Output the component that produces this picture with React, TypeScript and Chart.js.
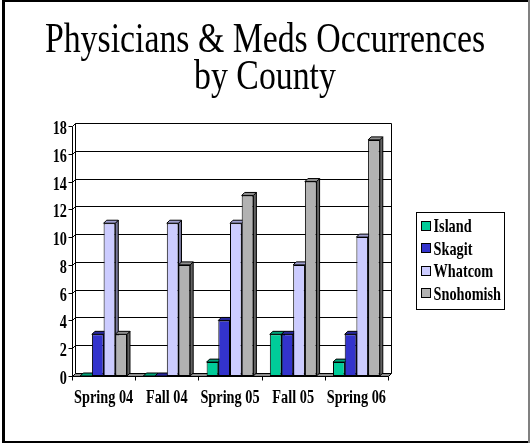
import { useEffect, useRef } from "react";
import { Chart, registerables } from "chart.js";

Chart.register(...registerables);

const categories = ["Spring 04", "Fall 04", "Spring 05", "Fall 05", "Spring 06"];
const seriesNames = ["Island", "Skagit", "Whatcom", "Snohomish"];
const island = [0, 0, 1, 3, 1];
const skagit = [3, 0, 4, 3, 3];
const whatcom = [11, 11, 11, 8, 10];
const snohomish = [3, 8, 13, 14, 17];
const yTicks = [0, 2, 4, 6, 8, 10, 12, 14, 16, 18];
const titleLines = ["Physicians & Meds Occurrences", "by County"];

const FRONT = ["#00CC99", "#3333CC", "#CCCCFF", "#B2B2B2"];
const TOP = ["#00A37A", "#28289E", "#A0A0D0", "#8E8E8E"];
const SIDE = ["#007A5C", "#1C1C70", "#77779A", "#626262"];

const DX = 3;
const DY = 3;
const SY = 1.27;
const SERIF = '"Liberation Serif", "Times New Roman", serif';

function stretchText(
  ctx: CanvasRenderingContext2D,
  text: string,
  x: number,
  y: number,
  font: string,
  align: CanvasTextAlign
) {
  ctx.save();
  ctx.font = font;
  ctx.textAlign = align;
  ctx.textBaseline = "alphabetic";
  ctx.fillStyle = "#000";
  ctx.translate(x, y);
  ctx.scale(1, SY);
  ctx.fillText(text, 0, 0);
  ctx.restore();
}

function poly(ctx: CanvasRenderingContext2D, pts: number[][], fill: string) {
  ctx.beginPath();
  ctx.moveTo(pts[0][0], pts[0][1]);
  for (let i = 1; i < pts.length; i++) ctx.lineTo(pts[i][0], pts[i][1]);
  ctx.closePath();
  ctx.fillStyle = fill;
  ctx.fill();
  ctx.stroke();
}

function seg(ctx: CanvasRenderingContext2D, x1: number, y1: number, x2: number, y2: number) {
  ctx.beginPath();
  ctx.moveTo(x1, y1);
  ctx.lineTo(x2, y2);
  ctx.stroke();
}

const decor = {
  id: "decor",
  beforeDraw(chart: any) {
    const ctx: CanvasRenderingContext2D = chart.ctx;
    ctx.save();
    ctx.fillStyle = "#fff";
    ctx.fillRect(0, 0, chart.width, chart.height);
    ctx.fillStyle = "#000";
    ctx.fillRect(2, 0, 526, 2);
    ctx.fillRect(2, 0, 3, 443);
    ctx.fillRect(2, 441, 526, 2);
    ctx.fillStyle = "#808080";
    ctx.fillRect(528, 0, 2, 443);
    ctx.restore();
    stretchText(ctx, titleLines[0], 265, 52, `33.8px ${SERIF}`, "center");
    stretchText(ctx, titleLines[1], 265, 89, `33.8px ${SERIF}`, "center");
  },
  beforeDatasetsDraw(chart: any) {
    const ctx: CanvasRenderingContext2D = chart.ctx;
    const a = chart.chartArea;
    const xs = chart.scales.x;
    const ys = chart.scales.y;
    const L = Math.round(a.left) + 0.5;
    const R = Math.round(a.right) + 0.5;
    const B = Math.round(ys.getPixelForValue(0)) + 0.5;
    const T = Math.round(ys.getPixelForValue(18)) + 0.5;
    ctx.save();
    ctx.lineWidth = 1;
    ctx.strokeStyle = "#000";
    ctx.lineJoin = "miter";
    // back wall gridlines and front y-axis ticks
    for (const v of yTicks) {
      const py = Math.round(ys.getPixelForValue(v)) + 0.5;
      if (v > 0) seg(ctx, L + DX, py - DY, R + DX, py - DY);
      seg(ctx, L - 4, py, L, py);
      seg(ctx, L, py, L + DX, py - DY);
    }
    // back wall outline
    seg(ctx, L + DX, T - DY, L + DX, B - DY);
    seg(ctx, R + DX, T - DY, R + DX, B - DY);
    // floor
    poly(ctx, [[L, B], [L + DX, B - DY], [R + DX, B - DY], [R, B]], "#8C8C8C");
    // front y axis
    seg(ctx, L, T, L, B);
    // x ticks at category boundaries
    for (let i = 0; i <= categories.length; i++) {
      const px = Math.round(xs.getPixelForValue(i - 0.5)) + 0.5;
      seg(ctx, px, B, px, B + 4);
    }
    // 3D faces of bars (top + right side)
    for (let di = 0; di < chart.data.datasets.length; di++) {
      const meta = chart.getDatasetMeta(di);
      meta.data.forEach((el: any) => {
        const p = el.getProps(["x", "y", "base", "width"], true);
        const l = p.x - p.width / 2;
        const r = p.x + p.width / 2;
        const t = Math.min(p.y, p.base);
        const b = Math.max(p.y, p.base);
        poly(ctx, [[r, b], [r + DX, b - DY], [r + DX, t - DY], [r, t]], SIDE[di]);
        poly(ctx, [[l, t], [l + DX, t - DY], [r + DX, t - DY], [r, t]], TOP[di]);
      });
    }
    ctx.restore();
  },
  afterDraw(chart: any) {
    const ctx: CanvasRenderingContext2D = chart.ctx;
    const a = chart.chartArea;
    const xs = chart.scales.x;
    const ys = chart.scales.y;
    const boldFont = `bold 14.3px ${SERIF}`;
    for (const v of yTicks) {
      const py = ys.getPixelForValue(v);
      stretchText(ctx, String(v), Math.round(a.left) - 5, py + 8, boldFont, "right");
    }
    categories.forEach((c, i) => {
      stretchText(ctx, c, xs.getPixelForValue(i), 403, boldFont, "center");
    });
    // legend
    ctx.save();
    ctx.lineWidth = 1;
    ctx.strokeStyle = "#000";
    ctx.strokeRect(416.5, 212.5, 88, 97);
    seriesNames.forEach((name, i) => {
      const cy = 225.5 + i * 22.4;
      ctx.fillStyle = FRONT[i];
      ctx.fillRect(421.5, Math.round(cy - 4.5) + 0.5, 9, 9);
      ctx.strokeRect(421.5, Math.round(cy - 4.5) + 0.5, 9, 9);
      stretchText(ctx, name, 433.5, cy + 6.8, boldFont, "left");
    });
    ctx.restore();
  },
};

export default function App() {
  const ref = useRef<HTMLCanvasElement | null>(null);
  useEffect(() => {
    if (!ref.current) return;
    const series = [island, skagit, whatcom, snohomish];
    const chart = new Chart(ref.current, {
      type: "bar",
      data: {
        labels: categories,
        datasets: series.map((d, i) => ({
          label: seriesNames[i],
          data: d,
          backgroundColor: FRONT[i],
          borderColor: "#000",
          borderWidth: 1,
          borderSkipped: false,
          categoryPercentage: 0.74,
          barPercentage: 1.0,
        })),
      },
      options: {
        responsive: false,
        maintainAspectRatio: false,
        devicePixelRatio: 1,
        animation: false,
        layout: { padding: { left: 72, right: 142, top: 126, bottom: 68 } },
        scales: {
          x: { type: "category", display: false, offset: true },
          y: { display: false, min: 0, max: 18 },
        },
        plugins: {
          legend: { display: false },
          title: { display: false },
          tooltip: { enabled: false },
        },
      },
      plugins: [decor],
    } as any);
    return () => chart.destroy();
  }, []);
  return (
    <div style={{ position: "fixed", left: 0, top: 0, width: 530, height: 444, background: "#fff" }}>
      <canvas ref={ref} width={530} height={444} style={{ display: "block", width: 530, height: 444 }} />
    </div>
  );
}
